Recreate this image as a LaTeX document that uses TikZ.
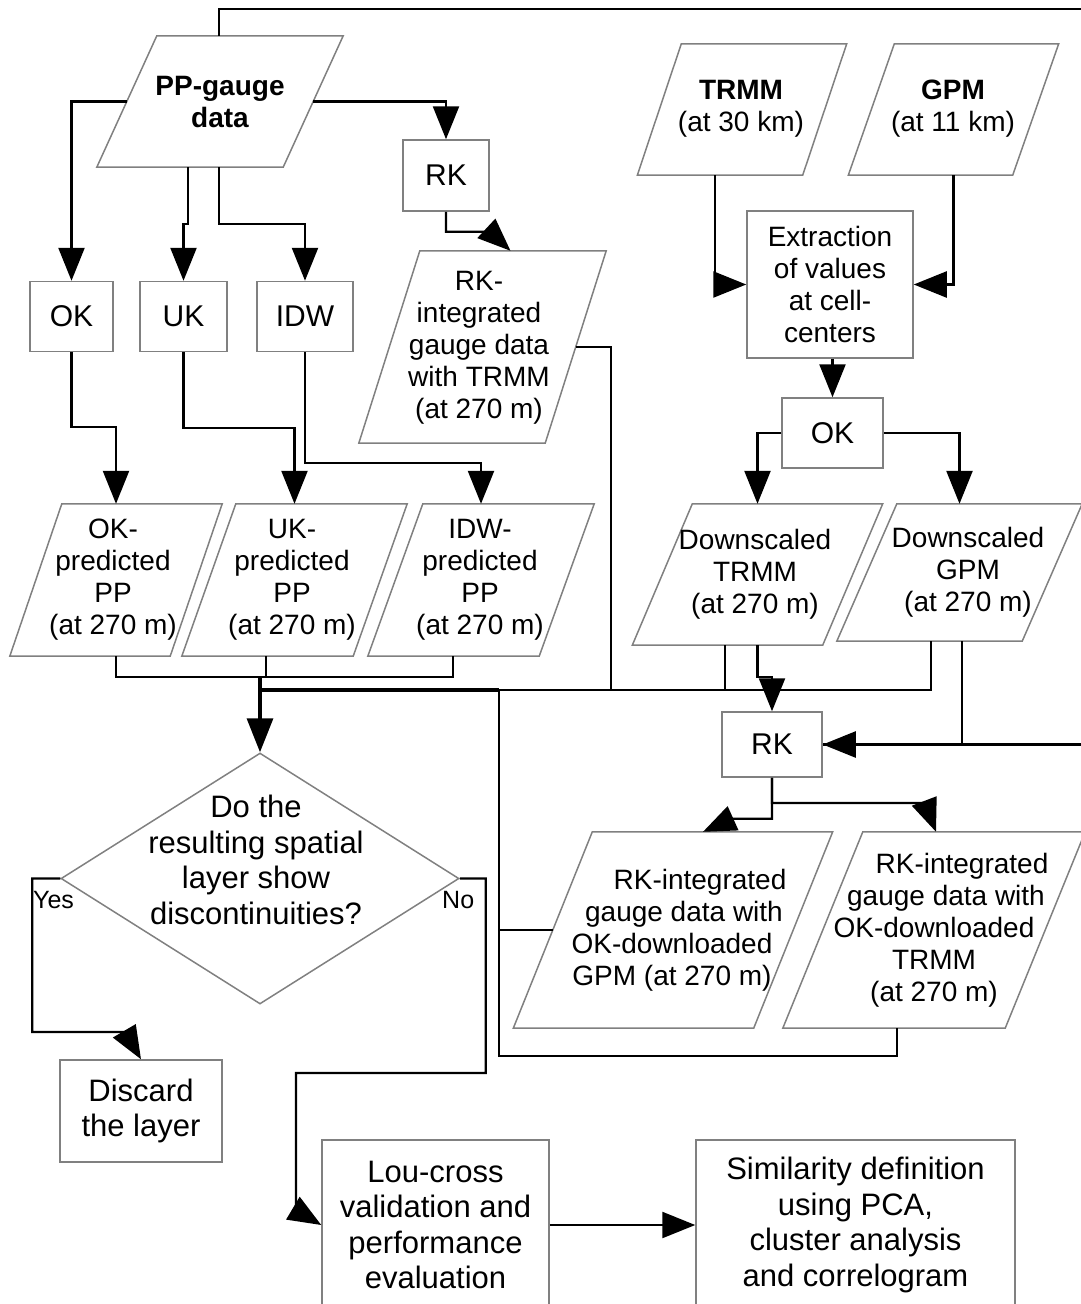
\documentclass[tikz,border=0pt]{standalone}
\usepackage{fontspec}
\setmainfont{Liberation Sans}
\usetikzlibrary{arrows.meta,shapes.geometric,calc}
\definecolor{boxgray}{RGB}{128,128,128}
\newcommand\fA{\fontsize{28}{32}\selectfont}
\newcommand\fB{\fontsize{30}{34}\selectfont}
\newcommand\fC{\fontsize{31}{35.5}\selectfont}
\newcommand\fY{\fontsize{25}{28}\selectfont}
\newcommand\slantbox[2]{\draw[shapeline] ([xshift=#2*0.5pt]#1.north west) -- ([xshift=#2*0.5pt]#1.north east) -- ([xshift=-#2*0.5pt]#1.south east) -- ([xshift=-#2*0.5pt]#1.south west) -- cycle;}
\begin{document}
\begin{tikzpicture}[x=1pt,y=-1pt,
  shapeline/.style={draw=boxgray,line width=1.5pt},
  box/.style={shapeline,rectangle,inner sep=0pt,align=center},
  pshape/.style={rectangle,inner sep=0pt},
  ptext/.style={align=center,inner sep=0pt,font=\fA},
  lbl/.style={inner sep=0pt,font=\fY,anchor=west},
  conn/.style={draw=black,line width=2.4pt},
  arr/.style={conn,-{Triangle[length=33pt,width=26pt]}},
  busline/.style={conn,line width=3.4pt}]
\useasboundingbox (0,0) rectangle (1081,1304);

% ---------- left column ----------
\node[pshape,minimum width=186pt,minimum height=131pt] (ppg) at (220,101.5) {};
\slantbox{ppg}{60}
\node[ptext,font=\fA\bfseries] (ppgT) at (220,102.5) {PP-gauge\\data};

\node[box,minimum width=86pt,minimum height=71pt,font=\fB] (rkA) at (446,175.5) {RK};
\node[box,minimum width=83pt,minimum height=70pt,font=\fB] (okA) at (71.5,316.5) {OK};
\node[box,minimum width=87pt,minimum height=70pt,font=\fB] (ukA) at (183.5,316.5) {UK};
\node[box,minimum width=96pt,minimum height=70pt,font=\fB] (idwA) at (305,316.5) {IDW};

\node[pshape,minimum width=186pt,minimum height=192pt] (rkT) at (482.5,347) {};
\slantbox{rkT}{61}
\node[ptext] (rkTt) at (479,348) {RK-\\integrated\\gauge data\\with TRMM\\(at 270 m)};

\node[pshape,minimum width=160pt,minimum height=152pt] (okp) at (116,580) {};
\slantbox{okp}{52}
\node[ptext] (okpT) at (113,580) {OK-\\predicted\\PP\\(at 270 m)};
\node[pshape,minimum width=171pt,minimum height=152pt] (ukp) at (294.5,580) {};
\slantbox{ukp}{54}
\node[ptext] (ukpT) at (292,580) {UK-\\predicted\\PP\\(at 270 m)};
\node[pshape,minimum width=171pt,minimum height=152pt] (idwp) at (481,580) {};
\slantbox{idwp}{55}
\node[ptext] (idwpT) at (480,580) {IDW-\\predicted\\PP\\(at 270 m)};

% ---------- right column ----------
\node[pshape,minimum width=165pt,minimum height=131pt] (trmm) at (742,109.5) {};
\slantbox{trmm}{44}
\node[ptext] (trmmT) at (741,109) {\textbf{TRMM}\\(at 30 km)};
\node[pshape,minimum width=164pt,minimum height=131pt] (gpm) at (953.5,109.5) {};
\slantbox{gpm}{46}
\node[ptext] (gpmT) at (953,109) {\textbf{GPM}\\(at 11 km)};

\node[box,minimum width=166pt,minimum height=147pt,font=\fA] (ext) at (830,284.5) {Extraction\\of values\\at cell-\\centers};
\node[box,minimum width=101pt,minimum height=70pt,font=\fB] (okB) at (832.5,433) {OK};

\node[pshape,minimum width=190pt,minimum height=141pt] (dT) at (757.5,574.5) {};
\slantbox{dT}{60}
\node[ptext] (dTT) at (755,574) {Downscaled\\TRMM\\(at 270 m)};
\node[pshape,minimum width=185pt,minimum height=137pt] (dG) at (959.5,572.5) {};
\slantbox{dG}{60}
\node[ptext] (dGT) at (968,572) {Downscaled\\GPM\\(at 270 m)};

\node[box,minimum width=100pt,minimum height=65pt,font=\fB] (rkB) at (772,744.5) {RK};

\node[pshape,minimum width=240pt,minimum height=196pt] (rGp) at (673,930) {};
\slantbox{rGp}{79}
\node[ptext] (rGpT) at (672,930) {\hspace*{56pt}RK-integrated\\\hspace*{24pt}gauge data with\\OK-downloaded\\GPM (at 270 m)};
\node[pshape,minimum width=222pt,minimum height=196pt] (rTp) at (934,930) {};
\slantbox{rTp}{80}
\node[ptext] (rTpT) at (934,930) {\hspace*{56pt}RK-integrated\\\hspace*{24pt}gauge data with\\OK-downloaded\\TRMM\\(at 270 m)};

% ---------- decision and bottom ----------
\node[diamond,shapeline,minimum width=398pt,minimum height=251pt,inner sep=0pt] (dia) at (260,878.5) {};
\node[ptext,font=\fC] (diaT) at (256,860) {Do the\\resulting spatial\\layer show\\discontinuities?};
\node[lbl] (yes) at (33,900) {Yes};
\node[lbl] (no) at (442,900) {No};

\node[box,minimum width=162pt,minimum height=102pt,font=\fC] (disc) at (141,1111) {Discard\\the layer};
\node[box,minimum width=227pt,minimum height=170pt,font=\fC] (lou) at (435.5,1225) {Lou-cross\\validation and\\performance\\evaluation};
\node[box,minimum width=319pt,minimum height=170pt,font=\fC] (sim) at (855.5,1225) {Similarity definition\\using PCA,\\cluster analysis\\and correlogram};

% ---------- junction coordinates ----------
\coordinate (pj) at (260,677);
\coordinate (bus) at (260,690);
\coordinate (bus499) at (499,690);
\coordinate (bus611) at (611,690);
\coordinate (lb) at (499,1056);
\coordinate (fbA) at (1100,9);
\coordinate (yesc) at (125,1032);
\coordinate (noc) at (296,1210);

% ---------- connectors ----------
\draw[arr] (ppg.west) -| (okA.north);
\draw[arr] (ppg.east) -| (rkA.north);
\draw[arr] ([xshift=-32]ppg.south) -- ++(0,57) -| (ukA.north);
\draw[arr] ([xshift=-1]ppg.south) -- ++(0,57) -| (idwA.north);
\draw[arr] ([xshift=-1]ppg.north) |- (fbA) |- (rkB.east);
\draw[arr] (rkA.south) -- ++(0,20) -- ++(44,0) -- ([xshift=28]rkT.north);

\draw[arr] (okA.south) -- ++(0,75) -| (okp.north);
\draw[arr] (ukA.south) -- ++(0,76) -| (ukp.north);
\draw[arr] (idwA.south) -- ++(0,111) -| (idwp.north);

\draw[conn] (okp.south) |- (pj);
\draw[conn] ([xshift=-28.5]ukp.south) |- (pj);
\draw[conn] ([xshift=-28]idwp.south) |- (pj);

\draw[conn] (rkT.east) -| (bus611);
\draw[conn] ([xshift=-28.5]dG.south) |- (bus);
\draw[conn] ([xshift=-32.5]dT.south) -- ([xshift=-32.5]dT.south |- bus);
\draw[conn] ([xshift=-37]rTp.south) |- (lb) -- (bus499);
\draw[conn] (rGp.west) -- (rGp.west -| lb);
\draw[busline] (bus) -- (bus499);
\draw[busline,-{Triangle[length=34pt,width=26pt]}] (pj) -- (dia.north);

\draw[arr] ([xshift=-27]trmm.south) |- (ext.west);
\draw[arr] (gpm.south) |- (ext.east);
\draw[arr] (okB.north |- ext.south) -- (okB.north);
\draw[arr] (okB.west) -| (dT.north);
\draw[arr] (okB.east) -| (dG.north);
\draw[arr] (dT.south) -- ++(0,32) -| (rkB.north);
\draw[conn] ([xshift=2.5]dG.south) |- (rkB.east);

\draw[arr] (rkB.south) -- ++(0,41) -- ++(-40,0) -- ([xshift=30]rGp.north);
\draw[arr] (rkB.south) |- (925,803) -- ([xshift=2]rTp.north);

\draw[arr] (dia.west) -- ++(-28,0) |- (yesc) -- (disc.north);
\draw[arr] (dia.east) -- ++(26,0) -- ++(0,194.5) -| (noc) -- (lou.west);
\draw[arr] (lou.east) -- (sim.west);
\end{tikzpicture}
\end{document}
